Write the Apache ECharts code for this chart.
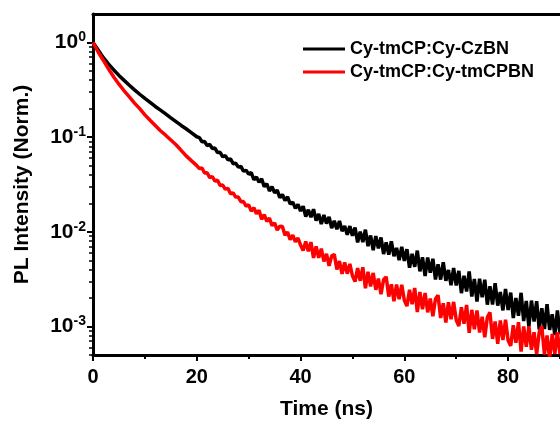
<!DOCTYPE html>
<html><head><meta charset="utf-8">
<script src="https://cdn.jsdelivr.net/npm/echarts@6/dist/echarts.min.js"></script>
<style>html,body{margin:0;padding:0;background:#fff}#c{width:560px;height:425px}</style>
</head><body><div id="c"></div>
<script>
const timeNs = [0,1,2,3,4,5,6,7,8,9,10,11,12,13,14,15,16,17,18,19,20,
20.5,21,21.5,22,22.5,23,23.5,24,24.5,25,25.5,26,26.5,27,27.5,28,28.5,29,29.5,30,
30.5,31,31.5,32,32.5,33,33.5,34,34.5,35,35.5,36,36.5,37,37.5,38,38.5,39,39.5,40,
40.5,41,41.5,42,42.5,43,43.5,44,44.5,45,45.5,46,46.5,47,47.5,48,48.5,49,49.5,50,
50.5,51,51.5,52,52.5,53,53.5,54,54.5,55,55.5,56,56.5,57,57.5,58,58.5,59,59.5,60,
60.5,61,61.5,62,62.5,63,63.5,64,64.5,65,65.5,66,66.5,67,67.5,68,68.5,69,69.5,70,
70.5,71,71.5,72,72.5,73,73.5,74,74.5,75,75.5,76,76.5,77,77.5,78,78.5,79,79.5,80,
80.5,81,81.5,82,82.5,83,83.5,84,84.5,85,85.5,86,86.5,87,87.5,88,88.5,89,89.5,90];

const czbn = [1,0.832,0.692,0.592,0.513,0.449,0.398,0.353,0.316,0.284,0.257,0.233,0.211,0.193,0.176,0.160,0.146,0.133,0.122,0.111,0.101,
0.0990,0.0894,0.0899,0.0815,0.0837,0.0758,0.0768,0.0687,0.0691,0.0621,
0.0638,0.0578,0.0589,0.0525,0.0530,0.0483,0.0491,0.0437,0.0446,0.0407,
0.0422,0.0355,0.0380,0.0334,0.0363,0.0300,0.0322,0.0270,0.0300,0.0258,
0.0276,0.0229,0.0248,0.0214,0.0234,0.0197,0.0206,0.0177,0.0195,0.0166,
0.01862,0.01451,0.01712,0.01428,0.01732,0.01313,0.01549,0.01207,0.01505,0.01222,
0.01441,0.01093,0.01306,0.01062,0.01305,0.01017,0.01151,0.00934,0.01149,0.00908,
0.01109,0.00774,0.01005,0.00778,0.01053,0.00705,0.00916,0.00640,0.00903,0.00670,
0.00871,0.00583,0.00773,0.00574,0.00793,0.00554,0.00676,0.00502,0.00694,0.00494,
0.00655,0.00417,0.00586,0.00427,0.00633,0.00382,0.00538,0.00342,0.00536,0.00370,
0.00520,0.00314,0.00455,0.00313,0.00477,0.00304,0.00395,0.00273,0.00415,0.00271,
0.00387,0.00225,0.00343,0.00234,0.00381,0.00207,0.00317,0.00184,0.00320,0.00204,
0.00312,0.00170,0.00267,0.00171,0.00287,0.00166,0.00231,0.00148,0.00249,0.00149,
0.00228,0.00123,0.00200,0.00130,0.00227,0.00114,0.00186,0.000996,0.00188,0.00113,
0.00185,0.000926,0.00156,0.000942,0.00172,0.000922,0.00135,0.000812,0.00148,0.000826];

const tmcpbn = [1,0.794,0.646,0.525,0.432,0.363,0.309,0.266,0.229,0.200,0.172,0.151,0.133,0.117,0.105,0.0933,0.0832,0.0724,0.0631,0.0562,0.0501,
0.0466,0.0473,0.0418,0.0420,0.0373,0.0384,0.0344,0.0351,0.0309,0.0312,
0.0282,0.0288,0.0252,0.0258,0.0233,0.0233,0.0208,0.0209,0.0187,0.0193,
0.01654,0.01799,0.01554,0.01689,0.01356,0.01516,0.01286,0.01398,0.01165,0.01243,
0.01044,0.01147,0.01137,0.00921,0.00993,0.00826,0.00924,0.00783,0.00860,0.00725,
0.00633,0.00790,0.00623,0.00778,0.00530,0.00700,0.00531,0.00664,0.00486,0.00585,
0.00437,0.00556,0.00578,0.00400,0.00491,0.00360,0.00476,0.00361,0.00459,0.00343,
0.00298,0.00413,0.00304,0.00422,0.00253,0.00378,0.00265,0.00368,0.00244,0.00321,
0.00219,0.00312,0.00335,0.00207,0.00279,0.00185,0.00278,0.00194,0.00276,0.00189,
0.00164,0.00244,0.00172,0.00255,0.00142,0.00231,0.00152,0.00226,0.00141,0.00197,
0.00128,0.00195,0.00214,0.00123,0.00176,0.00110,0.00180,0.00119,0.00182,0.00117,
0.00101,0.00160,0.00107,0.00169,0.000857,0.00150,0.000935,0.00148,0.000865,0.00127,
0.000770,0.00125,0.00141,0.000740,0.00113,0.000658,0.00116,0.000721,0.00118,0.000711,
0.000624,0.00103,0.000675,0.00111,0.000543,0.00100,0.000610,0.00100,0.000568,0.000870,
0.000512,0.000874,0.000997,0.000506,0.000803,0.000455,0.000837,0.000511,0.000873,0.000513];

const seriesNames = ['Cy-tmCP:Cy-CzBN', 'Cy-tmCP:Cy-tmCPBN'];
const seriesColors = ['#000000', '#ff0000'];
const xMajorTicks = [0, 20, 40, 60, 80];
const xMinorTicks = [10, 30, 50, 70, 90];
const yMajorTicks = [0.001, 0.01, 0.1, 1];
const yMinorTicks = [0.0005,0.0006,0.0007,0.0008,0.0009,
  0.002,0.003,0.004,0.005,0.006,0.007,0.008,0.009,
  0.02,0.03,0.04,0.05,0.06,0.07,0.08,0.09,
  0.2,0.3,0.4,0.5,0.6,0.7,0.8,0.9];
const xTitle = 'Time (ns)';
const yTitle = 'PL Intensity (Norm.)';

const FONT = 'Arial, "Liberation Sans", sans-serif';
const chart = echarts.init(document.getElementById('c'), null, {renderer: 'canvas'});
const axisLine = {show: true, lineStyle: {color: '#000', width: 3}};
const X_MIN = 0, X_MAX = 90, Y_MIN = 0.0005, Y_MAX = 2;

chart.setOption({
  animation: false,
  backgroundColor: '#fff',
  grid: {left: 93, top: 14, width: 472, height: 348, containLabel: false},
  legend: {
    orient: 'vertical', left: 298, top: 35, itemWidth: 42, itemHeight: 3, itemGap: 5,
    icon: 'rect',
    data: seriesNames,
    textStyle: {fontFamily: FONT, fontWeight: 'bold', fontSize: 18, color: '#000'}
  },
  xAxis: [
    {
      type: 'value', position: 'bottom', min: X_MIN, max: X_MAX, interval: 20,
      axisLine: axisLine, splitLine: {show: false},
      axisTick: {show: true, inside: false, length: 6, lineStyle: {width: 2, color: '#000'}, customValues: xMajorTicks},
      axisLabel: {customValues: xMajorTicks, margin: 12, fontFamily: FONT, fontWeight: 'bold', fontSize: 20, color: '#000'},
      name: xTitle, nameLocation: 'middle', nameGap: 44,
      nameTextStyle: {fontFamily: FONT, fontWeight: 'bold', fontSize: 21, color: '#000'}
    },
    {
      type: 'value', position: 'bottom', min: X_MIN, max: X_MAX,
      axisLine: {show: false}, splitLine: {show: false}, axisLabel: {show: false},
      axisTick: {show: true, inside: false, length: 4, lineStyle: {width: 2, color: '#000'}, customValues: xMinorTicks}
    },
    {
      type: 'value', position: 'top', min: X_MIN, max: X_MAX,
      axisLine: axisLine, splitLine: {show: false}, axisLabel: {show: false}, axisTick: {show: false}
    }
  ],
  yAxis: [
    {
      type: 'log', logBase: 10, position: 'left', min: Y_MIN, max: Y_MAX,
      axisLine: axisLine, splitLine: {show: false}, minorSplitLine: {show: false},
      axisTick: {show: true, inside: false, length: 6, lineStyle: {width: 2, color: '#000'}, customValues: yMajorTicks},
      axisLabel: {
        customValues: yMajorTicks, margin: 7,
        formatter: function (v) { return '{b|10}{s|' + Math.round(Math.log10(v)) + '}'; },
        rich: {
          b: {fontFamily: FONT, fontWeight: 'bold', fontSize: 21, lineHeight: 24, color: '#000'},
          s: {fontFamily: FONT, fontWeight: 'bold', fontSize: 14, lineHeight: 14, verticalAlign: 'top', color: '#000'}
        }
      },
      name: yTitle, nameLocation: 'middle', nameGap: 60,
      nameTextStyle: {fontFamily: FONT, fontWeight: 'bold', fontSize: 21, color: '#000'}
    },
    {
      type: 'log', logBase: 10, position: 'left', min: Y_MIN, max: Y_MAX,
      axisLine: {show: false}, splitLine: {show: false}, axisLabel: {show: false},
      axisTick: {show: true, inside: false, length: 4, lineStyle: {width: 1.5, color: '#000'}, customValues: yMinorTicks}
    }
  ],
  series: seriesNames.map(function (name, k) {
    const vals = k === 0 ? czbn : tmcpbn;
    return {
      name: name, type: 'line', xAxisIndex: 0, yAxisIndex: 0,
      showSymbol: false, symbol: 'none', clip: true,
      lineStyle: {color: seriesColors[k], width: 3.5},
      itemStyle: {color: seriesColors[k]},
      data: timeNs.map(function (t, i) { return [t, vals[i]]; })
    };
  })
});
</script>
</body></html>
